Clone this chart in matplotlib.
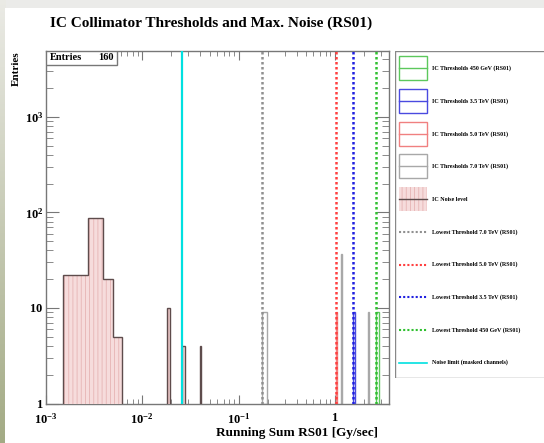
import matplotlib
matplotlib.use("Agg")
import matplotlib.pyplot as plt
import numpy as np
from matplotlib.patches import Rectangle
from matplotlib.ticker import FixedLocator, FixedFormatter, LogLocator, NullFormatter

# noise level histogram (bin low edge, high edge, entries)
noise_lo = [0.00151, 0.00271, 0.00388, 0.00500, 0.0182, 0.0261, 0.0398]
noise_hi = [0.00271, 0.00388, 0.00500, 0.00619, 0.0194, 0.0277, 0.0412]
noise_counts = [22, 88, 20, 5, 10, 4, 4]

# threshold histograms per beam energy
thr_names = ["450 GeV", "3.5 TeV", "5.0 TeV", "7.0 TeV"]
thr_colors = ["#5cc85c", "#4a4ae0", "#f08080", "#a8a8a8"]
thr_lo = [[2.70], [1.55], [1.02], [0.174, 1.16, 2.19]]
thr_hi = [[2.84], [1.62], [1.06], [0.196, 1.20, 2.27]]
thr_counts = [[8], [8], [8], [8, 36, 8]]

# lowest thresholds (dotted lines), legend order 7.0, 5.0, 3.5, 450
lowest_names = ["7.0 TeV", "5.0 TeV", "3.5 TeV", "450 GeV"]
lowest_vals = [0.174, 1.02, 1.55, 2.70]
lowest_colors = ["#909090", "#ff4040", "#2020e0", "#30c030"]

noise_limit = 0.0256
entries = 160

xticks = [1e-3, 1e-2, 1e-1, 1]
xticklabels = [r"$\mathbf{10^{-3}}$", r"$\mathbf{10^{-2}}$", r"$\mathbf{10^{-1}}$", r"$\mathbf{1}$"]
yticks = [1, 10, 100, 1000]
yticklabels = [r"$\mathbf{1}$", r"$\mathbf{10}$", r"$\mathbf{10^{2}}$", r"$\mathbf{10^{3}}$"]

plt.rcParams["font.family"] = "Liberation Serif"
plt.rcParams["font.weight"] = "bold"
plt.rcParams["mathtext.fontset"] = "custom"
plt.rcParams["mathtext.rm"] = "Liberation Serif:bold"
plt.rcParams["mathtext.bf"] = "Liberation Serif:bold"
plt.rcParams["hatch.linewidth"] = 0.6

W, H = 544, 443
fig = plt.figure(figsize=(W / 100, H / 100), dpi=100)
fig.patch.set_facecolor("#ebebe9")

# left gradient strip and white canvas
bg = fig.add_axes([0, 0, 6 / W, 1], zorder=-20)
grad = np.linspace(0, 1, 200)[:, None]
c_top = np.array([0.92, 0.92, 0.90])
c_bot = np.array([0.64, 0.67, 0.52])
img = c_top[None, None, :] * (1 - grad[..., None]) + c_bot[None, None, :] * grad[..., None]
bg.imshow(img, aspect="auto", extent=[0, 1, 0, 1])
bg.axis("off")
fig.add_artist(Rectangle((5 / W, 0), 1, 1 - 8 / H, transform=fig.transFigure,
                         facecolor="white", edgecolor="none", zorder=-10))

ax = fig.add_axes([46 / W, 1 - 403.5 / H, (389 - 46) / W, (403.5 - 51) / H])
ax.set_xscale("log")
ax.set_yscale("log")
ax.set_xlim(1e-3, 3.65)
ax.set_ylim(1, 4900)

# threshold histograms
for lo, hi, cnt, col in zip(thr_lo, thr_hi, thr_counts, thr_colors):
    lo = np.array(lo)
    hi = np.array(hi)
    ax.bar(lo, cnt, width=hi - lo, align="edge", bottom=1, fill=False,
           edgecolor=col, linewidth=1.0, zorder=2)

# noise histogram: hatched fill + outline per contiguous run
nlo = np.array(noise_lo)
nhi = np.array(noise_hi)
ncnt = np.array(noise_counts, dtype=float)
ax.bar(nlo, ncnt - 1, width=nhi - nlo, align="edge", bottom=1,
       facecolor="#f6dcdc", edgecolor="#e6b4b4", hatch="||||", linewidth=0, zorder=3)
start = 0
for i in range(1, len(nlo) + 1):
    if i == len(nlo) or abs(nlo[i] - nhi[i - 1]) > 1e-9:
        edges = list(nlo[start:i]) + [nhi[i - 1]]
        ax.stairs(ncnt[start:i], edges, baseline=1, color="#5e4c4c", linewidth=1.0, zorder=4)
        start = i

for v, col in zip(lowest_vals, lowest_colors):
    ax.axvline(v, color=col, linestyle=(0, (1.0, 1.0)), linewidth=1.8, zorder=5)
ax.axvline(noise_limit, color="#00e0e0", linewidth=1.6, zorder=5)

ax.xaxis.set_major_locator(FixedLocator(xticks))
ax.xaxis.set_major_formatter(FixedFormatter(xticklabels))
ax.yaxis.set_major_locator(FixedLocator(yticks))
ax.yaxis.set_major_formatter(FixedFormatter(yticklabels))
ax.xaxis.set_minor_locator(LogLocator(base=10, subs=np.arange(2, 10), numticks=20))
ax.yaxis.set_minor_locator(LogLocator(base=10, subs=np.arange(2, 10), numticks=20))
ax.xaxis.set_minor_formatter(NullFormatter())
ax.yaxis.set_minor_formatter(NullFormatter())
ax.tick_params(which="both", direction="in", top=True, right=True, color="#777777")
ax.tick_params(axis="x", which="major", length=6.5, labelsize=9, pad=6)
ax.tick_params(axis="x", which="minor", length=3.6)
ax.tick_params(axis="y", which="major", length=9.4, labelsize=9, pad=2)
ax.tick_params(axis="y", which="minor", length=5)
for s in ax.spines.values():
    s.set_color("#777777")
    s.set_linewidth(1.0)

ax.set_xlabel("Running Sum RS01 [Gy/sec]", loc="right", fontsize=9.5, fontweight="bold")
ax.xaxis.set_label_coords((378 - 46) / 343, -(427 - 403.5) / 352.5)
ax.set_ylabel("Entries", loc="top", fontsize=8, fontweight="bold")
ax.yaxis.set_label_coords(-(46 - 21) / 343, 1.0)

fig.text(50 / W, 1 - 23 / H, "IC Collimator Thresholds and Max. Noise (RS01)",
         fontsize=11, fontweight="bold", ha="left", va="center")

# stats box
ax.add_patch(Rectangle((0, 1 - 14 / 352.5), 71 / 343, 14 / 352.5, transform=ax.transAxes,
                       facecolor="white", edgecolor="#777777", linewidth=1.0, zorder=6))
ax.text(4 / 343, 1 - 7 / 352.5, "Entries", transform=ax.transAxes, fontsize=7.5,
        fontweight="bold", va="center", ha="left", zorder=7)
ax.text(68 / 343, 1 - 7 / 352.5, str(entries), transform=ax.transAxes, fontsize=7.5,
        fontweight="bold", va="center", ha="right", zorder=7)

# legend panel, pixel coordinates
lax = fig.add_axes([395 / W, 1 - 378 / H, (W + 10 - 395) / W, (378 - 51) / H])
lax.set_xlim(395, W + 10)
lax.set_ylim(378, 51)
lax.axis("off")
lax.add_patch(Rectangle((395, 51), W + 5 - 395, 327, facecolor="white",
                        edgecolor="#888888", linewidth=1.0))
legend_items = []
for name, col in zip(thr_names, thr_colors):
    legend_items.append(("box", col, "IC Thresholds %s (RS01)" % name))
legend_items.append(("noise", "#5e4c4c", "IC Noise level"))
for name, col in zip(lowest_names, lowest_colors):
    legend_items.append(("dot", col, "Lowest Threshold %s (RS01)" % name))
legend_items.append(("line", "#00e0e0", "Noise limit (masked channels)"))

y0, dy = 68.3, 32.7
for i, (kind, col, label) in enumerate(legend_items):
    y = y0 + i * dy
    if kind == "box":
        lax.add_patch(Rectangle((399, y - 12), 28, 24, facecolor="white", edgecolor=col, linewidth=1.0))
        lax.plot([399, 427], [y, y], color=col, linewidth=1.0)
    elif kind == "noise":
        lax.add_patch(Rectangle((399, y - 12), 28, 24, facecolor="#f6dcdc", edgecolor="#e6b4b4",
                                hatch="||||", linewidth=0))
        lax.plot([399, 427], [y, y], color=col, linewidth=1.0)
    elif kind == "dot":
        lax.plot([399, 427], [y, y], color=col, linestyle=(0, (1.0, 1.0)), linewidth=1.5)
    else:
        lax.plot([399, 427], [y, y], color=col, linewidth=1.2)
    lax.text(432, y, label, fontsize=4.3, fontweight="bold", va="center", ha="left")

fig.savefig("out.png", dpi=100)
